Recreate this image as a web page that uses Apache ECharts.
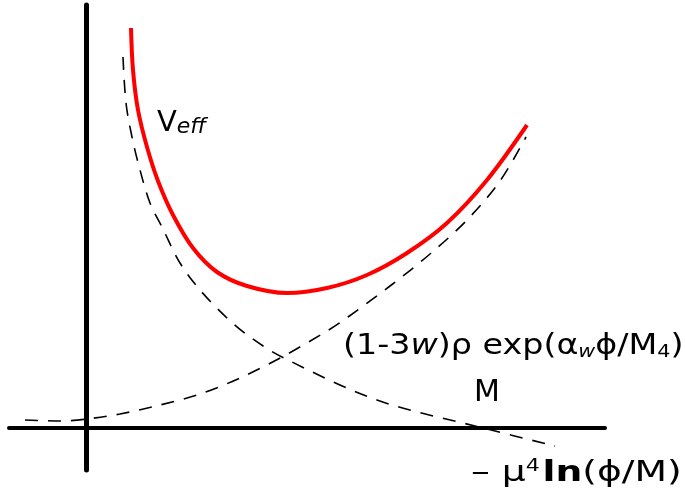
<!DOCTYPE html>
<html>
<head>
<meta charset="utf-8">
<script src="https://cdn.jsdelivr.net/npm/echarts@6/dist/echarts.min.js"></script>
<style>html,body{margin:0;padding:0;background:#fff}#c{width:685px;height:495px}</style>
</head>
<body>
<div id="c"></div>
<script>
// Effective potential V_eff (red) = sum of two dashed contributions
var veffX = [0.45, 0.47, 0.52, 0.61, 0.72, 0.87, 1.07, 1.31, 1.61, 2.01, 2.41, 2.81, 3.21, 3.61, 4.01, 4.41];
var veffY = [4.00, 3.58, 3.18, 2.81, 2.47, 2.13, 1.80, 1.56, 1.42, 1.35, 1.40, 1.53, 1.75, 2.05, 2.48, 3.03];
// - mu^4 ln(phi/M)
var logX = [0.37, 0.40, 0.46, 0.54, 0.64, 0.76, 0.94, 1.14, 1.41, 1.64, 1.96, 2.91, 3.97, 4.69];
var logY = [3.71, 3.25, 2.91, 2.58, 2.25, 2.01, 1.65, 1.38, 1.10, 0.91, 0.71, 0.28, 0.00, -0.18];
// (1-3w) rho exp(alpha_w phi / M4)
var expX = [-0.61, -0.26, 0.01, 0.34, 0.74, 1.14, 1.54, 1.96, 2.41, 2.62, 3.04, 3.44, 3.81, 4.14, 4.40];
var expY = [0.08, 0.07, 0.09, 0.14, 0.23, 0.34, 0.50, 0.71, 0.97, 1.11, 1.42, 1.74, 2.08, 2.47, 2.91];

function pairs(xs, ys) { return xs.map(function (x, i) { return [x, ys[i]]; }); }

var FONT = '"DejaVu Sans", sans-serif';
var chart = echarts.init(document.getElementById('c'), null, {renderer: 'canvas'});
chart.setOption({
  animation: false,
  backgroundColor: '#fff',
  grid: {left: 9, right: 80, top: 5, bottom: 25},
  xAxis: {
    type: 'value', min: -0.77, max: 5.19,
    axisLine: {onZero: true, lineStyle: {color: '#000', width: 4}},
    axisTick: {show: false}, axisLabel: {show: false}, splitLine: {show: false}
  },
  yAxis: {
    type: 'value', min: -0.42, max: 4.23,
    axisLine: {onZero: true, lineStyle: {color: '#000', width: 5}},
    axisTick: {show: false}, axisLabel: {show: false}, splitLine: {show: false}
  },
  series: [
    {type: 'line', data: pairs(expX, expY), smooth: 0.33, showSymbol: false,
     lineStyle: {color: '#000', width: 1.6, type: [13, 10]}},
    {type: 'line', data: pairs(logX, logY), smooth: 0.33, showSymbol: false,
     lineStyle: {color: '#000', width: 1.6, type: [13, 10]}},
    {type: 'line', data: pairs(veffX, veffY), smooth: 0.33, showSymbol: false,
     lineStyle: {color: '#ff0000', width: 4}}
  ],
  graphic: [
    {type: 'text', x: 157, y: 106, style: {
      text: '{v|V}{e|eff}', rich: {
        v: {fontFamily: FONT, fontSize: 29, fill: '#000', verticalAlign: 'bottom', lineHeight: 32},
        e: {fontFamily: FONT, fontSize: 22, fontStyle: 'italic', fill: '#000', verticalAlign: 'bottom', lineHeight: 32}
      }}},
    {type: 'text', x: 343, y: 327, scaleX: 1.15, style: {
      text: '{n|(1-3}{i|w}{n|)ρ exp(α}{s|w}{n|ϕ/M}{t|4}{n|)}', rich: {
        n: {fontFamily: FONT, fontSize: 29, fill: '#000', verticalAlign: 'bottom', lineHeight: 34},
        i: {fontFamily: FONT, fontSize: 29, fontStyle: 'italic', fill: '#000', verticalAlign: 'bottom', lineHeight: 34},
        s: {fontFamily: FONT, fontSize: 18, fontStyle: 'italic', fill: '#000', verticalAlign: 'bottom', lineHeight: 34},
        t: {fontFamily: FONT, fontSize: 18, fill: '#000', verticalAlign: 'bottom', lineHeight: 34}
      }}},
    {type: 'text', x: 474, y: 378, style: {
      text: 'M', fontFamily: FONT, fontSize: 30, fill: '#000'}},
    {type: 'text', x: 471, y: 454, scaleX: 1.3, style: {
      text: '{n|– μ}{p|4}{b|ln}{n|(ϕ/M)}', rich: {
        n: {fontFamily: FONT, fontSize: 29, fill: '#000', verticalAlign: 'bottom', lineHeight: 34},
        b: {fontFamily: FONT, fontSize: 29, fontWeight: 'bold', fill: '#000', verticalAlign: 'bottom', lineHeight: 34},
        p: {fontFamily: FONT, fontSize: 17, fill: '#000', verticalAlign: 'top', lineHeight: 34, padding: [4, 2, 0, 0]}
      }}}
  ]
});
</script>
</body>
</html>
